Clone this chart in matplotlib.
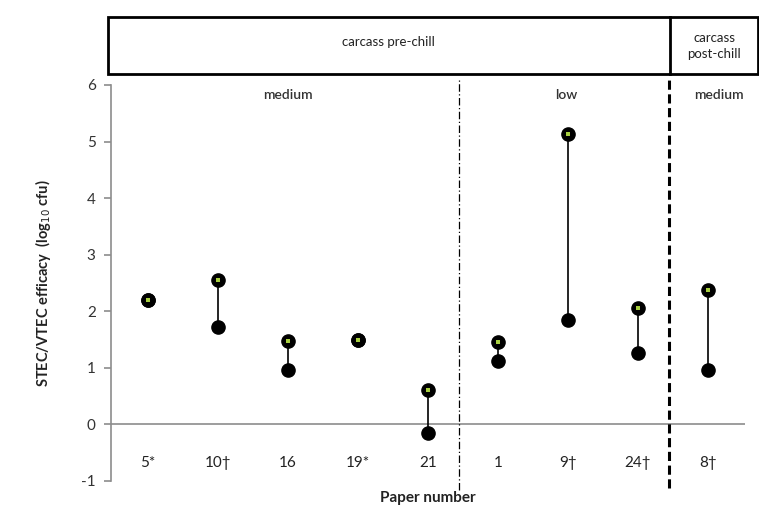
import matplotlib.pyplot as plt
from matplotlib.patches import Rectangle

plt.rcParams['font.family'] = ['Lato', 'DejaVu Sans']
plt.rcParams['axes.unicode_minus'] = False

# data
papers = ['5*', '10\u2020', '16', '19*', '21', '1', '9\u2020', '24\u2020', '8\u2020']
high = [2.20, 2.56, 1.47, 1.50, 0.60, 1.45, 5.13, 2.06, 2.38]
low = [2.20, 1.73, 0.97, 1.50, -0.16, 1.12, 1.84, 1.26, 0.97]
groups = ['medium', 'low', 'medium']
stages = ['carcass pre-chill', 'carcass\npost-chill']

W, H = 759, 507
fig = plt.figure(figsize=(W / 100, H / 100), dpi=100)
ax = fig.add_axes([111 / W, (H - 481) / H, 634 / W, 396 / H])

x = list(range(len(papers)))
ax.vlines(x, low, high, color='black', lw=1.2, zorder=2)
ax.plot(x, low, 'o', color='black', ms=9.5, zorder=3)
ax.plot(x, high, 'o', color='black', ms=9.5, zorder=4)
ax.plot(x, high, 's', color='#a8d040', ms=3, mew=0, zorder=5)

ax.set_xlim(-0.529, 8.529)
ax.set_ylim(-1, 6)
ax.axhline(0, color='#8c8c8c', lw=1.2, zorder=1)

for s in ['top', 'right', 'bottom']:
    ax.spines[s].set_visible(False)
ax.spines['left'].set_color('#8c8c8c')
ax.spines['left'].set_linewidth(1.2)
ax.set_yticks(range(-1, 7))
ax.tick_params(axis='y', colors='#8c8c8c', length=5, width=1.2, labelsize=11,
               labelcolor='#333333', pad=6)
ax.set_xticks([])

for i, p in enumerate(papers):
    ax.text(i, -0.68, p, ha='center', va='center', fontsize=11, color='#222222')

# separators
ax.plot([4.45, 4.45], [-1.16, 6.12], color='black', lw=0.9,
        linestyle=(0, (6, 2, 1, 2)), clip_on=False)
ax.plot([7.45, 7.45], [-1.13, 6.12], color='black', lw=2.2,
        linestyle=(0, (3, 1.5)), clip_on=False)

# group labels
for gx, g in zip([2.0, 5.97, 8.15], groups):
    ax.text(gx, 5.82, g, ha='center', va='center', fontsize=10,
            fontweight='semibold', color='#333333')

ax.set_ylabel('STEC/VTEC efficacy  (log$_{10}$ cfu)', fontsize=10.5,
              fontweight='bold', color='#222222', labelpad=20)
fig.text(428 / W, 1 - 498 / H, 'Paper number', ha='center', va='center',
         fontsize=11, fontweight='bold', color='#222222')

# top box
tf = fig.transFigure
fig.add_artist(Rectangle((108 / W, 1 - 74 / H), 650 / W, 57 / H, transform=tf,
                         fill=False, edgecolor='black', lw=2))
fig.add_artist(plt.Line2D([670 / W, 670 / W], [1 - 74 / H, 1 - 17 / H],
                          transform=tf, color='black', lw=2))
fig.text(388 / W, 1 - 42 / H, stages[0], ha='center', va='center', fontsize=9.5,
         color='#222222')
fig.text(714 / W, 1 - 46 / H, stages[1], ha='center', va='center', fontsize=9.5,
         color='#222222', linespacing=1.5)

fig.savefig('out.png', dpi=100)
